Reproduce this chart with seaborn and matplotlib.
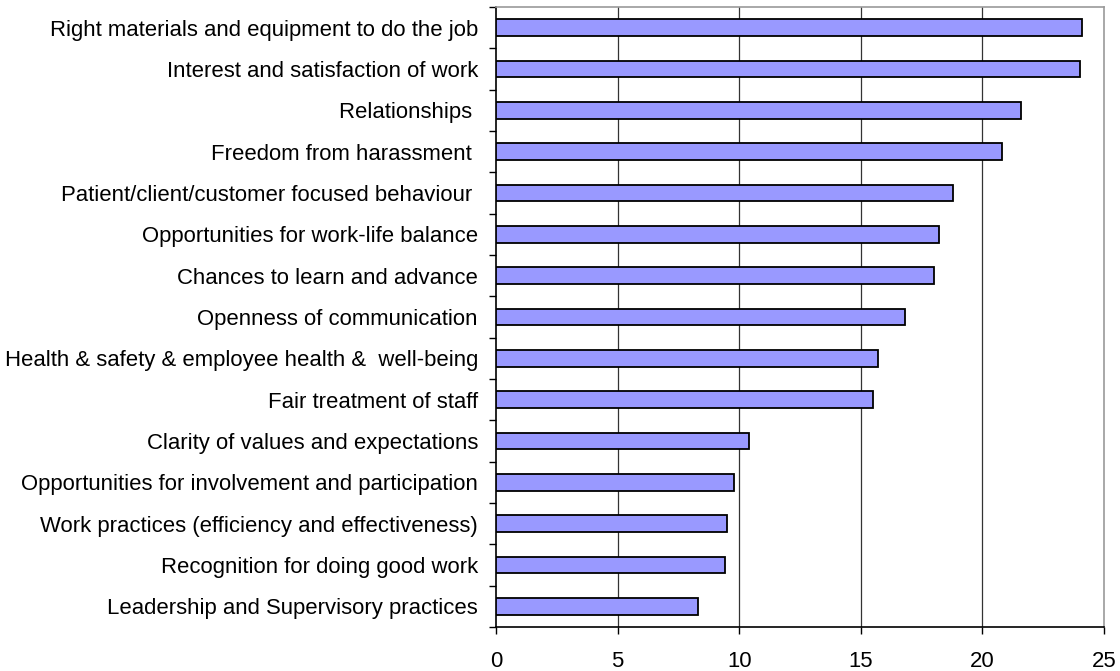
import matplotlib
matplotlib.use("Agg")
import matplotlib.pyplot as plt
from matplotlib.ticker import FixedLocator
import seaborn as sns
import pandas as pd

categories = [
    "Right materials and equipment to do the job",
    "Interest and satisfaction of work",
    "Relationships ",
    "Freedom from harassment ",
    "Patient/client/customer focused behaviour ",
    "Opportunities for work-life balance",
    "Chances to learn and advance",
    "Openness of communication",
    "Health & safety & employee health &  well-being",
    "Fair treatment of staff",
    "Clarity of values and expectations",
    "Opportunities for involvement and participation",
    "Work practices (efficiency and effectiveness)",
    "Recognition for doing good work",
    "Leadership and Supervisory practices",
]
values = [24.1, 24.0, 21.6, 20.8, 18.8, 18.2, 18.0, 16.8, 15.7, 15.5,
          10.4, 9.8, 9.5, 9.4, 8.3]
x_ticks = [0, 5, 10, 15, 20, 25]

df = pd.DataFrame({"category": categories, "value": values})

sns.set_theme(style="white")
plt.rcParams["font.family"] = ["Liberation Sans", "DejaVu Sans"]

fig = plt.figure(figsize=(11.2, 6.71), dpi=100)
ax = fig.add_axes([0.4429, 0.0656, 0.5428, 0.924])

sns.barplot(data=df, x="value", y="category", order=categories,
            orient="h", color="#9999FF", saturation=1, width=0.4,
            edgecolor="black", linewidth=1.3, ax=ax, zorder=3)

ax.set_xlim(0, 25)
ax.set_ylim(len(categories) - 0.5, -0.5)
ax.set_xticks(x_ticks)
ax.set_xticklabels([str(t) for t in x_ticks])
ax.set_xlabel("")
ax.set_ylabel("")

# vertical gridlines behind the bars
for t in x_ticks[1:-1]:
    ax.axvline(t, color="#333333", lw=0.9, zorder=1)

# category separators as outward ticks on the left axis
ax.yaxis.set_minor_locator(FixedLocator([i + 0.5 for i in range(-1, len(categories))]))
ax.tick_params(axis="y", which="major", length=0, pad=13, labelsize=15.9,
               labelcolor="black")
ax.tick_params(axis="y", which="minor", left=True, length=5, width=1, color="black")
ax.tick_params(axis="x", which="major", bottom=True, length=5, width=1,
               color="black", pad=12, labelsize=15.9, labelcolor="black")

for side in ["top", "right"]:
    ax.spines[side].set_color("#999999")
    ax.spines[side].set_linewidth(1.2)
for side in ["left", "bottom"]:
    ax.spines[side].set_color("black")
    ax.spines[side].set_linewidth(1.2)

fig.savefig("out.png", dpi=100, facecolor="white")
